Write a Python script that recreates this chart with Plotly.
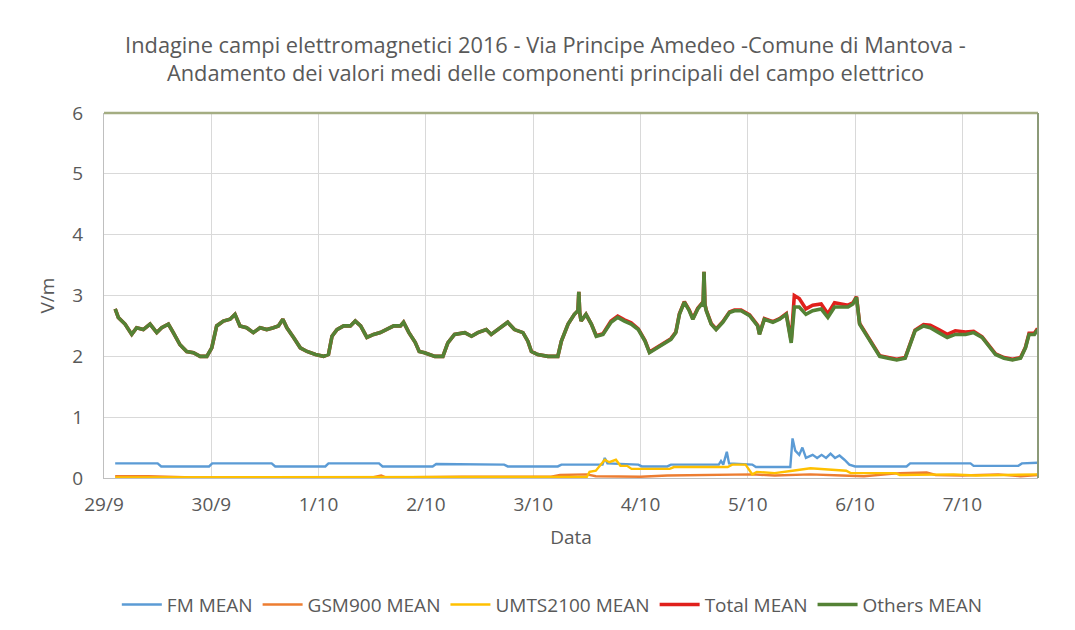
import pandas as pd
import plotly.graph_objects as go

START = "2016-09-29 00:00"

# ---- Others MEAN (green) : hours from 29/9 00:00, values V/m
others_h = [2.5, 3.2, 4.7, 6.2, 7.3, 8.8, 10.3, 11.8, 12.9, 14.4, 15.5, 17.0, 18.5, 20.0, 21.5, 23.0,
            24.1, 25.2, 26.7, 28.2, 29.3, 30.4, 31.9, 33.4, 34.9, 36.4, 37.9, 39.0, 40.0, 40.9, 42.4,
            43.9, 45.4, 47.3, 49.1, 50.2, 51.0, 52.1, 53.6, 55.1, 56.2, 57.4, 58.8, 60.3, 61.8, 63.3,
            64.8, 66.3, 67.0, 68.2, 69.6, 70.5, 71.7, 74.0, 75.8, 76.9, 78.4, 80.7, 82.2, 83.6, 85.5,
            86.6, 88.5, 90.3, 91.8, 93.7, 94.8, 95.6, 97.0, 99.3, 101.5, 102.3, 103.8, 105.2, 106.0,
            106.2, 106.4, 106.7, 107.8, 109.0, 110.1, 111.6, 113.4, 114.9, 116.4, 117.9, 119.5, 121.0,
            122.0, 123.1, 125.0, 126.8, 127.9, 128.7, 129.8, 130.9, 131.7, 132.8, 133.7, 134.0, 134.2,
            134.4, 134.7, 135.8, 136.9, 138.4, 139.9, 141.0, 142.5, 144.4, 146.2, 146.6, 147.7, 149.6,
            151.1, 152.6, 153.7, 154.4, 155.5, 157.0, 158.5, 160.4, 161.9, 163.4, 164.9, 166.4, 167.5,
            168.3, 169.0, 170.5, 172.0, 173.5, 175.4, 177.3, 179.2, 180.3, 181.4, 183.3, 184.8, 186.7,
            188.6, 190.4, 192.7, 194.5, 196.4, 197.9, 199.4, 201.3, 203.2, 205.0, 206.1, 206.9, 208.1,
            208.8]
others_v = [2.78, 2.64, 2.53, 2.36, 2.47, 2.44, 2.53, 2.39, 2.47, 2.53, 2.39, 2.19, 2.08, 2.06, 2.00, 2.00,
            2.14, 2.50, 2.58, 2.61, 2.69, 2.50, 2.47, 2.39, 2.47, 2.44, 2.47, 2.50, 2.61, 2.47, 2.31,
            2.14, 2.08, 2.03, 2.00, 2.03, 2.33, 2.44, 2.50, 2.50, 2.58, 2.50, 2.31, 2.36, 2.39, 2.44,
            2.50, 2.50, 2.56, 2.39, 2.23, 2.08, 2.06, 2.00, 2.00, 2.22, 2.36, 2.39, 2.33, 2.39, 2.44,
            2.36, 2.47, 2.56, 2.44, 2.39, 2.25, 2.08, 2.03, 2.00, 2.00, 2.25, 2.53, 2.69, 2.75,
            3.06, 2.72, 2.58, 2.69, 2.53, 2.33, 2.36, 2.56, 2.64, 2.58, 2.53, 2.44, 2.25,
            2.06, 2.11, 2.19, 2.28, 2.39, 2.69, 2.89, 2.75, 2.61, 2.78, 2.86, 2.85, 3.39,
            2.85, 2.75, 2.53, 2.44, 2.56, 2.72, 2.75, 2.75, 2.67, 2.50, 2.36, 2.61, 2.56,
            2.61, 2.69, 2.22, 2.81, 2.81, 2.69, 2.75, 2.78, 2.64, 2.81, 2.81, 2.81, 2.86,
            2.97, 2.53, 2.36, 2.17, 2.00, 1.97, 1.94, 1.97, 2.19, 2.42, 2.50, 2.47, 2.39,
            2.31, 2.36, 2.36, 2.39, 2.31, 2.17, 2.03, 1.97, 1.94, 1.97, 2.14, 2.36, 2.36,
            2.44]

# ---- Total MEAN (red), same time stamps as Others (visible only where it exceeds Others)
total_v = [2.78, 2.64, 2.53, 2.36, 2.47, 2.44, 2.53, 2.39, 2.47, 2.53, 2.39, 2.19, 2.08, 2.06, 2.00, 2.00,
           2.14, 2.50, 2.58, 2.61, 2.69, 2.50, 2.47, 2.39, 2.47, 2.44, 2.47, 2.50, 2.61, 2.47, 2.31,
           2.14, 2.08, 2.03, 2.00, 2.03, 2.33, 2.44, 2.50, 2.50, 2.58, 2.50, 2.31, 2.36, 2.39, 2.44,
           2.50, 2.50, 2.56, 2.39, 2.23, 2.08, 2.06, 2.00, 2.00, 2.22, 2.36, 2.39, 2.33, 2.39, 2.44,
           2.36, 2.47, 2.56, 2.44, 2.39, 2.25, 2.08, 2.03, 2.00, 2.00, 2.25, 2.53, 2.69, 2.75,
           3.06, 2.72, 2.58, 2.69, 2.53, 2.34, 2.37, 2.58, 2.66, 2.60, 2.55, 2.45, 2.26,
           2.07, 2.12, 2.20, 2.29, 2.40, 2.70, 2.90, 2.76, 2.62, 2.79, 2.87, 2.86, 3.39,
           2.86, 2.76, 2.54, 2.45, 2.57, 2.73, 2.76, 2.76, 2.68, 2.51, 2.37, 2.62, 2.57,
           2.62, 2.70, 2.26, 3.00, 2.95, 2.78, 2.84, 2.86, 2.70, 2.88, 2.86, 2.84, 2.88,
           2.98, 2.54, 2.37, 2.18, 2.01, 1.98, 1.95, 1.98, 2.20, 2.43, 2.52, 2.51, 2.44,
           2.36, 2.42, 2.40, 2.41, 2.32, 2.18, 2.04, 1.98, 1.95, 1.98, 2.15, 2.38, 2.38,
           2.46]

# ---- FM MEAN (blue)
fm_h = [2.5, 12.0, 12.8, 23.5, 24.2, 37.5, 38.3, 49.5, 50.2, 61.5, 62.3, 73.5, 74.3, 89.5, 90.3,
        101.5, 102.3, 111.5, 112.0, 112.6, 119.5, 120.3, 126.0, 126.8, 137.5, 138.0, 138.5, 139.3,
        139.8, 145.0, 145.8, 153.5, 154.0, 154.6, 155.5, 156.2, 157.0, 158.5, 159.5, 160.5, 161.5,
        162.5, 163.5, 164.5, 165.6, 166.7, 168.0, 179.5, 180.3, 193.8, 194.5, 204.5, 205.3, 208.9]
fm_v = [0.24, 0.24, 0.19, 0.19, 0.24, 0.24, 0.19, 0.19, 0.24, 0.24, 0.19, 0.19, 0.23, 0.22, 0.19,
        0.19, 0.22, 0.22, 0.33, 0.24, 0.22, 0.19, 0.19, 0.22, 0.22, 0.28, 0.22, 0.43,
        0.24, 0.22, 0.18, 0.18, 0.65, 0.45, 0.38, 0.50, 0.33, 0.38, 0.33, 0.38, 0.33,
        0.40, 0.33, 0.37, 0.30, 0.22, 0.19, 0.19, 0.24, 0.24, 0.20, 0.20, 0.24, 0.25]

# ---- GSM900 MEAN (orange)
gsm_h = [2.5, 10.0, 20.0, 60.0, 62.0, 63.0, 80.0, 100.0, 102.0, 108.0, 110.0, 120.0, 126.0, 140.0,
         145.0, 150.0, 158.0, 165.0, 170.0, 178.0, 184.0, 186.0, 192.0, 200.0, 205.0, 208.9]
gsm_v = [0.03, 0.03, 0.01, 0.01, 0.04, 0.01, 0.02, 0.02, 0.05, 0.06, 0.03, 0.02, 0.04, 0.05,
         0.06, 0.04, 0.06, 0.04, 0.03, 0.08, 0.09, 0.05, 0.04, 0.06, 0.03, 0.05]

# ---- UMTS2100 MEAN (yellow)
umts_h = [2.5, 100.0, 108.0, 108.6, 110.0, 112.0, 113.0, 114.5, 115.5, 117.0, 118.0, 126.5, 127.5,
          139.5, 140.5, 143.5, 145.0, 146.0, 150.0, 154.0, 158.0, 162.0, 166.0, 167.0, 177.0, 178.0,
          190.0, 195.0, 200.0, 208.9]
umts_v = [0.01, 0.01, 0.02, 0.10, 0.12, 0.30, 0.26, 0.30, 0.20, 0.20, 0.15, 0.15, 0.18,
          0.18, 0.22, 0.22, 0.06, 0.10, 0.08, 0.12, 0.16, 0.14, 0.12, 0.08, 0.08, 0.05,
          0.06, 0.04, 0.05, 0.06]

series_names = ["FM MEAN", "GSM900 MEAN", "UMTS2100 MEAN", "Total MEAN", "Others MEAN"]
y_ticks = [0, 1, 2, 3, 4, 5, 6]
title_lines = ["Indagine campi elettromagnetici 2016 - Via Principe Amedeo -Comune di Mantova -",
               "Andamento dei valori medi delle componenti principali del campo elettrico"]

t0 = pd.Timestamp(START)
def to_dates(hours):
    return [t0 + pd.Timedelta(hours=h) for h in hours]

colors = ["#5b9bd5", "#ed7d31", "#ffc000", "#e0201c", "#548235"]
widths = [2.4, 2.4, 2.4, 3.6, 3.6]

data = [
    (fm_h, fm_v), (gsm_h, gsm_v), (umts_h, umts_v), (others_h, total_v), (others_h, others_v)
]

fig = go.Figure()
for (h, v), name, c, w in zip(data, series_names, colors, widths):
    fig.add_trace(go.Scatter(x=to_dates(h), y=v, mode="lines", name=name,
                             line=dict(color=c, width=w)))

grey = "#595959"
font = "Open Sans"
fig.update_layout(
    width=1075, height=630,
    paper_bgcolor="white", plot_bgcolor="white",
    margin=dict(l=96, r=45, t=105, b=160),
    title=dict(text="<br>".join(title_lines), x=0.5, xanchor="center",
               y=1 - 45 / 630, yanchor="top",
               font=dict(family=font, size=21.8, color=grey)),
    font=dict(family=font, color=grey),
    showlegend=True,
    legend=dict(orientation="h", x=0.48, xanchor="center", y=-0.295, yanchor="top",
                font=dict(family=font, size=19, color=grey), itemwidth=40, tracegroupgap=0),
    xaxis=dict(
        type="date", automargin=False,
        range=[t0, t0 + pd.Timedelta(hours=208.9)],
        tick0=t0, dtick=86400000, tickformat="%-d/%-m",
        showgrid=True, gridcolor="#d9d9d9", gridwidth=1,
        showline=True, linecolor="#bfbfbf", linewidth=1,
        ticks="", ticklabelstandoff=9, tickfont=dict(size=19, color=grey),
        title=dict(text="Data", font=dict(size=19, color=grey), standoff=14),
        zeroline=False,
    ),
    yaxis=dict(
        automargin=False,
        range=[0, 6], tickvals=y_ticks,
        showgrid=True, gridcolor="#d9d9d9", gridwidth=1,
        showline=True, linecolor="#bfbfbf", linewidth=1,
        ticks="", ticklabelstandoff=16, tickfont=dict(size=19, color=grey),
        title=dict(text="V/m", font=dict(size=19, color=grey), standoff=12),
        zeroline=False,
    ),
)

# olive frame on top and right of plot area
fig.add_shape(type="line", xref="paper", yref="paper", x0=0, x1=1, y0=1, y1=1,
              line=dict(color="#a4ad82", width=2.5))
fig.add_shape(type="line", xref="paper", yref="paper", x0=1, x1=1, y0=0, y1=1,
              line=dict(color="#8c9a78", width=2))

fig.write_html("out.html")
